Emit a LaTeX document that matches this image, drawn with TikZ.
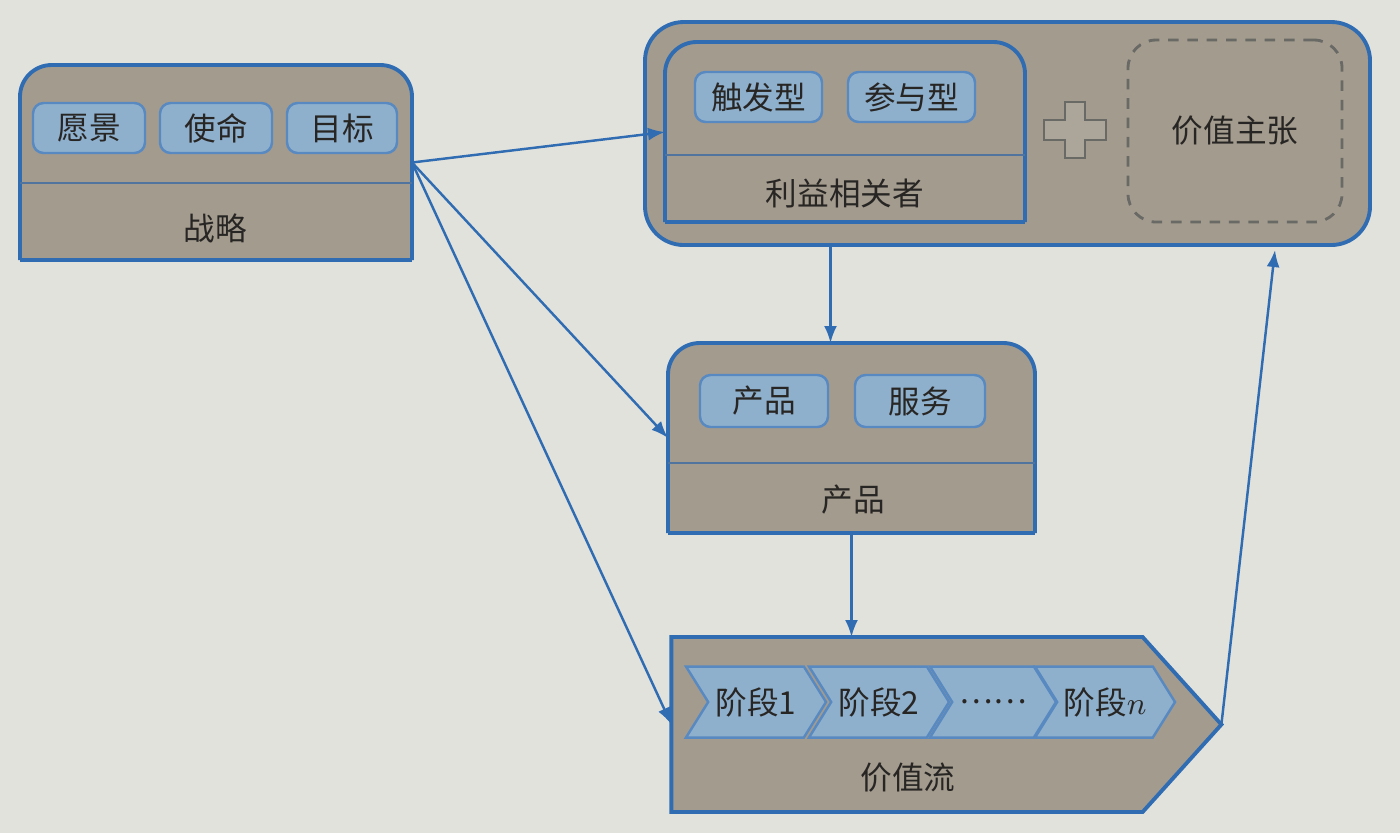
\documentclass[tikz,border=0pt]{standalone}
\usepackage{fontspec}
\setmainfont{Noto Sans CJK SC}
\usetikzlibrary{arrows.meta,positioning,shapes.symbols}
\definecolor{paper}{RGB}{226,226,221}
\definecolor{boxfill}{RGB}{163,155,142}
\definecolor{edgeblue}{RGB}{48,108,178}
\definecolor{chipblue}{RGB}{142,176,204}
\definecolor{ink}{RGB}{40,38,36}
\definecolor{dashgray}{RGB}{105,105,102}
\definecolor{plusfill}{RGB}{172,165,153}

\begin{document}
\begin{tikzpicture}[>={Latex[length=1.7mm,width=1.3mm]},every node/.style={font=\fontsize{9}{10}\selectfont,text=ink},area/.style={inner sep=0pt,outer sep=0pt},frame/.style={draw=edgeblue,fill=boxfill,line width=1.1pt},split/.style={edgeblue!60!gray,line width=0.7pt},chip/.style={draw=edgeblue!80,fill=chipblue,rounded corners=3pt,line width=0.7pt,minimum height=5mm,inner sep=0pt},stage/.style={signal,signal from=west,signal to=east,signal pointer angle=116,draw=edgeblue!80,fill=chipblue,line width=0.7pt,minimum height=7.1mm,inner sep=0pt},flow/.style={->,edgeblue,line width=0.7pt}]
\fill[paper] (0,0) rectangle (14,-8.33);\useasboundingbox (0,0) rectangle (14,-8.33);
% strategy
\node[area,minimum width=3.92cm,minimum height=1.95cm] (strat) at (2.16,-1.625) {};
\filldraw[frame,rounded corners=9pt] (strat.south west)--(strat.north west)--(strat.north east)--(strat.south east);\draw[frame] (strat.south west)--(strat.south east);
\draw[split] (strat.west |- 0,-1.83)--(strat.east |- 0,-1.83);
\node[chip,minimum width=1.12cm] (vision) at (0.89,-1.28) {愿景};\node[chip,minimum width=1.12cm] (mission) at (2.16,-1.28) {使命};\node[chip,minimum width=1.1cm] (goal) at (3.42,-1.28) {目标};
\node (stratlbl) at (2.15,-2.28) {战略};
% stakeholders + value proposition
\node[frame,area,rounded corners=11pt,minimum width=7.25cm,minimum height=2.23cm] (stake) at (10.075,-1.335) {};
\node[area,minimum width=3.6cm,minimum height=1.8cm] (party) at (8.45,-1.32) {};
\filldraw[frame,rounded corners=9pt] (party.south west)--(party.north west)--(party.north east)--(party.south east);\draw[frame] (party.south west)--(party.south east);
\draw[split] (party.west |- 0,-1.55)--(party.east |- 0,-1.55);
\node[chip,minimum width=1.27cm] (trigger) at (7.585,-0.97) {触发型};\node[chip,minimum width=1.27cm] (involve) at (9.115,-0.97) {参与型};
\node (partylbl) at (8.45,-1.93) {利益相关者};
\coordinate (plus) at (10.75,-1.3);
\filldraw[draw=dashgray,fill=plusfill,line width=0.8pt] (plus) ++(-0.1,0.28)--++(0.2,0)--++(0,-0.18)--++(0.21,0)--++(0,-0.2)--++(-0.21,0)--++(0,-0.18)--++(-0.2,0)--++(0,0.18)--++(-0.21,0)--++(0,0.2)--++(0.21,0)--cycle;
\node[area,draw=dashgray,dash pattern=on 3pt off 2.5pt,rounded corners=8pt,line width=0.8pt,minimum width=2.14cm,minimum height=1.82cm] (offer) at (12.35,-1.31) {价值主张};
% product
\node[area,minimum width=3.67cm,minimum height=1.9cm] (prod) at (8.515,-4.38) {};
\filldraw[frame,rounded corners=9pt] (prod.south west)--(prod.north west)--(prod.north east)--(prod.south east);\draw[frame] (prod.south west)--(prod.south east);
\draw[split] (prod.west |- 0,-4.63)--(prod.east |- 0,-4.63);
\node[chip,minimum width=1.28cm,minimum height=5.2mm] (goods) at (7.64,-4.01) {产品};\node[chip,minimum width=1.3cm,minimum height=5.2mm] (service) at (9.2,-4.01) {服务};
\node (prodlbl) at (8.53,-5.0) {产品};
% value stream
\node[frame,area,signal,signal to=east,signal pointer angle=96,minimum width=5.5cm,minimum height=1.75cm] (vstream) at (9.07,-7.245) {};
\node[stage,minimum width=1.4cm] (st1) at (7.56,-7.02) {阶段1};\node[stage,minimum width=1.4cm] (st2) at (8.79,-7.02) {阶段2};\node[stage,minimum width=1.26cm] (stdots) at (9.93,-7.02) {……};\node[stage,minimum width=1.4cm] (stn) at (11.05,-7.02) {阶段$n$};
\node (vstreamlbl) at (9.08,-7.78) {价值流};
% connectors
\draw[flow] (strat.east)--(party.west);\draw[flow] (strat.east)--(prod.west);\draw[flow] (strat.east)--(vstream.west);
\coordinate (prodin) at ([xshift=-2.1mm]prod.north);\draw[flow] (stake.south -| prodin)--(prodin);
\draw[flow] (prod.south)--(prod.south |- vstream.north);
\coordinate (offerin) at (12.75,-2.5);\draw[flow] (vstream.east)--(offerin);
\end{tikzpicture}
\end{document}
